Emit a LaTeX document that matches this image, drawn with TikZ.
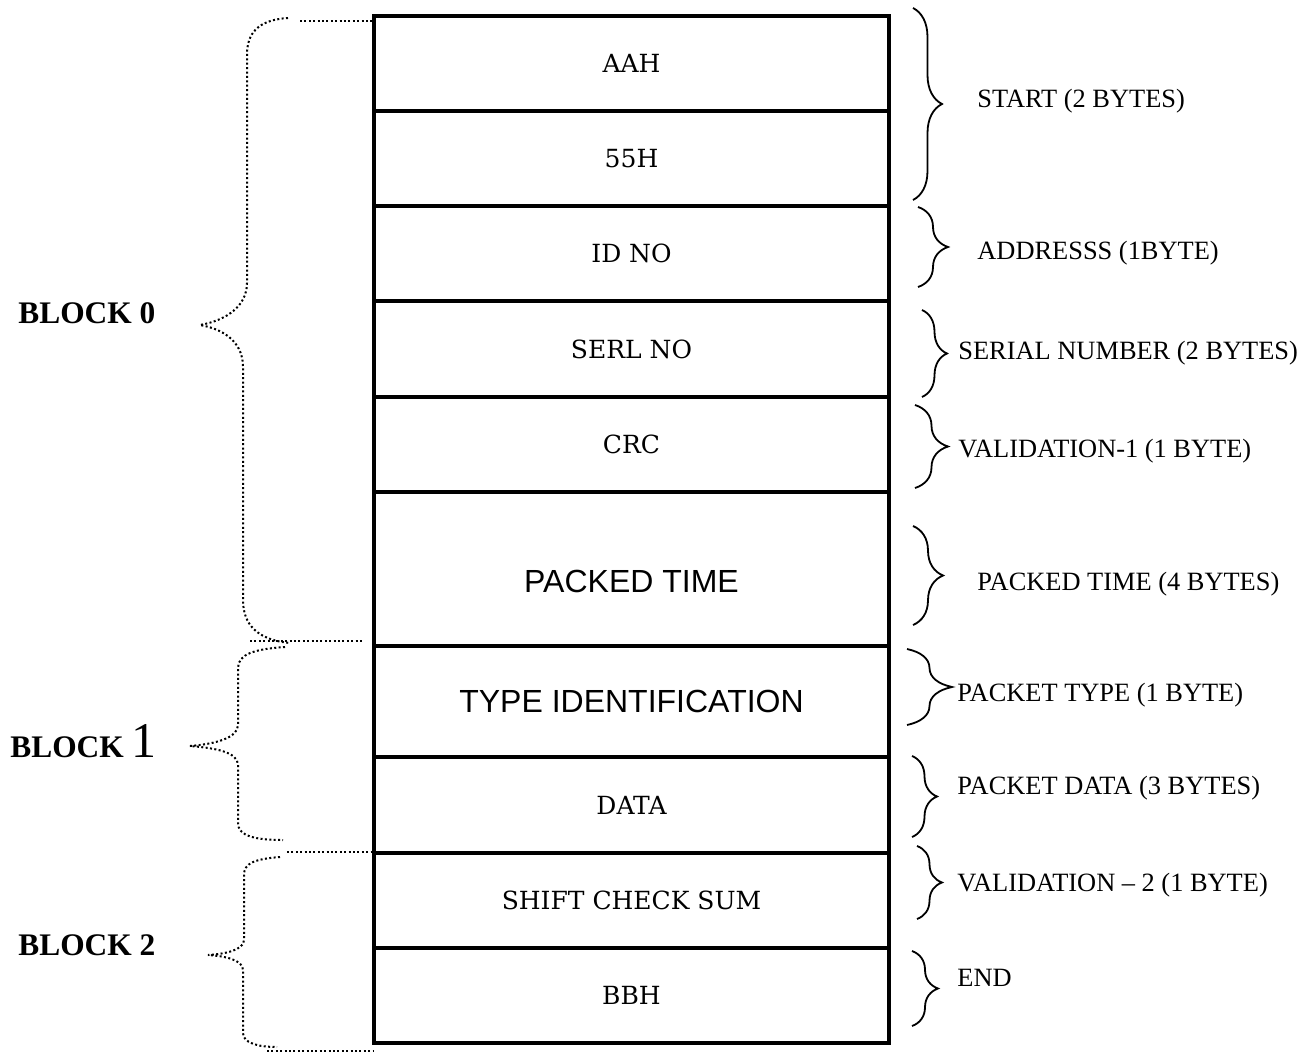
\documentclass[tikz,border=0pt]{standalone}
\usepackage{fontspec}
\setmainfont{Liberation Serif}
\newfontfamily\cellfont{DejaVu Serif}
\newfontfamily\bigfont{Liberation Sans}
\usetikzlibrary{decorations.pathreplacing}

\begin{document}
\begin{tikzpicture}[x=0.5pt, y=-0.5pt,
    cell/.style={draw, line width=1.6pt, outer sep=0pt, inner sep=0pt, anchor=north west,
      minimum width=257.5pt, font=\cellfont\fontsize{12.5}{14}\selectfont},
    big/.style={font=\bigfont\fontsize{16}{18}\selectfont},
    bytes/.style={anchor=base west, inner sep=0pt, font=\fontsize{13.2}{15}\selectfont},
    blk/.style={anchor=base west, inner sep=0pt, font=\bfseries\fontsize{15.7}{18}\selectfont},
    rbrace/.style={decorate, decoration={brace, amplitude=#1}, line width=0.9pt},
    dotbrace/.style={line width=1pt, dash pattern=on 1pt off 1.2pt}]
  \useasboundingbox (0,0) rectangle (1311,1053);

  % the packet
  \node[cell, minimum height=47.5pt] (aah) at (374,16) {AAH};
  \node[cell, minimum height=47.5pt] (h55) at (aah.south west) {55H};
  \node[cell, minimum height=47.5pt] (idno) at (h55.south west) {ID NO};
  \node[cell, minimum height=48pt] (serl) at (idno.south west) {SERL NO};
  \node[cell, minimum height=47.5pt] (crc) at (serl.south west) {CRC};
  \node[cell, big, minimum height=77pt, text height=23pt, text depth=0pt] (ptime) at (crc.south west) {PACKED TIME};
  \node[cell, big, minimum height=55.5pt] (typeid) at (ptime.south west) {TYPE IDENTIFICATION};
  \node[cell, minimum height=48pt] (data) at (typeid.south west) {DATA};
  \node[cell, minimum height=47.5pt] (csum) at (data.south west) {SHIFT CHECK SUM};
  \node[cell, minimum height=47.5pt] (bbh) at (csum.south west) {BBH};

  % byte counts
  \draw[rbrace=14.5pt] (913,8) -- (913,200);
  \draw[rbrace=15pt] (918,207) -- (918,287);
  \draw[rbrace=12.5pt] (922,310) -- (922,397);
  \draw[rbrace=16.5pt] (915,405) -- (915,488);
  \draw[rbrace=15pt] (913,526) -- (913,625);
  \draw[rbrace=22.5pt] (907,649) -- (907,725);
  \draw[rbrace=12.5pt] (912,756) -- (912,837);
  \draw[rbrace=12.5pt] (917,846) -- (917,919);
  \draw[rbrace=13pt] (912,951) -- (912,1026);

  \node[bytes] (start) at (977,108) {START (2 BYTES)};
  \node[bytes] (addr) at (977,260) {ADDRESSS (1BYTE)};
  \node[bytes] (serial) at (958,360) {SERIAL NUMBER (2 BYTES)};
  \node[bytes] (valone) at (958,457) {VALIDATION-1 (1 BYTE)};
  \node[bytes] (ptimeb) at (977,590) {PACKED TIME (4 BYTES)};
  \node[bytes] (ptype) at (957,701) {PACKET TYPE (1 BYTE)};
  \node[bytes] (pdata) at (957,794) {PACKET DATA (3 BYTES)};
  \node[bytes] (valtwo) at (957,891) {VALIDATION -- 2 (1 BYTE)};
  \node[bytes] (endb) at (957,986) {END};

  % blocks
  \node[blk] (blk0) at (18,324) {BLOCK 0};
  \node[blk] (blk1) at (10,757) {BLOCK \mdseries\fontsize{25}{27}\selectfont 1};
  \node[blk] (blk2) at (18,955) {BLOCK 2};

  \draw[dotbrace] (288,18) .. controls (258,20) and (247,33) .. (247,55) -- (247,283)
    .. controls (247,305) and (228,320) .. (200,325)
    .. controls (228,330) and (243,345) .. (243,367) -- (243,600)
    .. controls (243,625) and (258,640) .. (290,643);
  \draw[dotbrace] (300,21) -- (aah.north west |- 0,21);
  \draw[dotbrace] (250,641) -- (363,641);

  \draw[dotbrace] (285,647) .. controls (255,649) and (238,654) .. (238,668) -- (238,725)
    .. controls (238,738) and (215,744) .. (190,746)
    .. controls (215,748) and (238,752) .. (238,765) -- (238,823)
    .. controls (238,836) and (255,840) .. (283,840);
  \draw[dotbrace] (287,852) -- (402,852);

  \draw[dotbrace] (280,857) .. controls (255,859) and (244,863) .. (244,875) -- (244,940)
    .. controls (244,950) and (225,954) .. (208,955)
    .. controls (225,956) and (243,960) .. (243,970) -- (243,1033)
    .. controls (243,1043) and (258,1047) .. (277,1047);
  \draw[dotbrace] (267,1051) -- (bbh.south west |- 0,1051);
\end{tikzpicture}
\end{document}
